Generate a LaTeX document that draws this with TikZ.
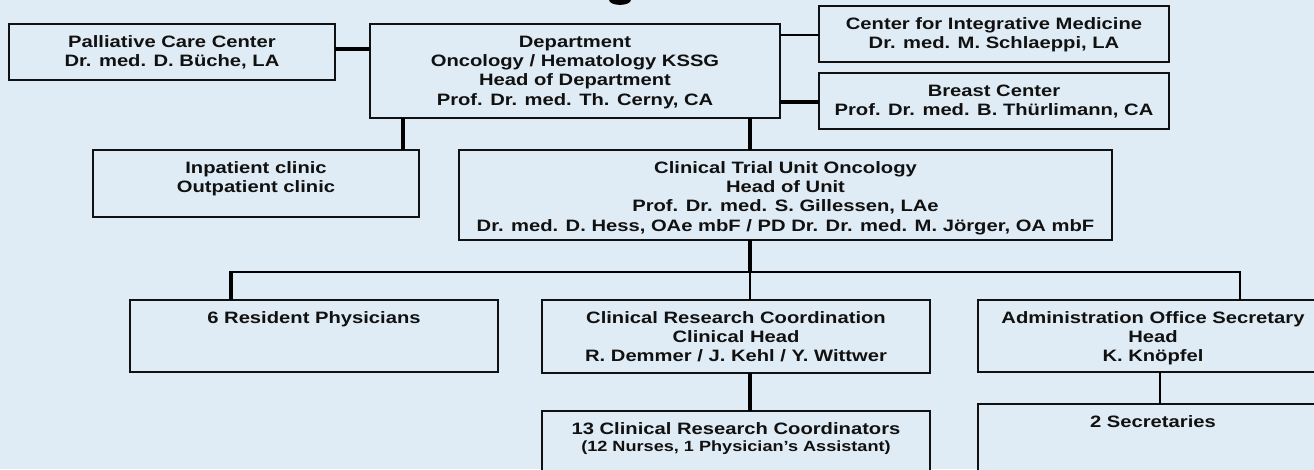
\documentclass[tikz,border=0pt]{standalone}
\usepackage{fontspec}
\setmainfont{Liberation Sans}[FakeStretch=1.224]
\definecolor{bg}{RGB}{224,236,245}
\definecolor{ink}{RGB}{17,17,17}
\newcommand{\bxt}[3]{\parbox[t][#2][t]{#1}{\centering\vspace*{10.3pt}\rule{0pt}{13pt}#3}}
\tikzset{
  orgbox/.style={draw=ink, line width=2.5pt, fill=bg, inner sep=0pt, outer sep=0pt, anchor=north west,
    font=\bfseries\fontsize{16.5}{19.3}\selectfont, text=ink},
  connA/.style={line width=2.7pt, black},
  connB/.style={line width=4.2pt, black},
}
\begin{document}
\begin{tikzpicture}[x=1pt,y=-1pt]
\useasboundingbox (0,0) rectangle (1314,469);
\clip (0,0) rectangle (1314,469);
\fill[bg] (0,0) rectangle (1314,469);
% fragment of a cut-off title
\fill[black] (609,0) .. controls (610,6.5) and (630,6.5) .. (631,0) -- cycle;

% boxes
\node[orgbox] (pal) at (9,24) {\bxt{326pt}{56pt}{Palliative Care Center\\Dr. med. D. Büche, LA}};
\node[orgbox] (dept) at (370,24) {\bxt{410pt}{94pt}{Department\\Oncology / Hematology KSSG\\Head of Department\\Prof. Dr. med. Th. Cerny, CA}};
\node[orgbox] (cim) at (819,6) {\bxt{350pt}{56pt}{Center for Integrative Medicine\\Dr. med. M. Schlaeppi, LA}};
\node[orgbox] (br) at (819,73) {\bxt{350pt}{56pt}{Breast Center\\Prof. Dr. med. B. Thürlimann, CA}};
\node[orgbox] (inp) at (93,150) {\bxt{326pt}{67pt}{Inpatient clinic\\Outpatient clinic}};
\node[orgbox] (ctu) at (459,150) {\bxt{653pt}{90pt}{Clinical Trial Unit Oncology\\Head of Unit\\Prof. Dr. med. S. Gillessen, LAe\\Dr. med. D. Hess, OAe mbF / PD Dr. Dr. med. M. Jörger, OA mbF}};
\node[orgbox] (res) at (130,300) {\bxt{368pt}{72pt}{6 Resident Physicians}};
\node[orgbox] (crc) at (542,300) {\bxt{388pt}{73pt}{Clinical Research Coordination\\Clinical Head\\R. Demmer / J. Kehl / Y. Wittwer}};
\node[orgbox] (c13) at (542,411) {\bxt{388pt}{69pt}{13 Clinical Research Coordinators\\[-2.3pt]{\fontsize{14.8}{17}\selectfont (12 Nurses, 1 Physician’s Assistant)}}};
\node[orgbox] (adm) at (978,300) {\bxt{350pt}{72pt}{Administration Office Secretary\\Head\\K. Knöpfel}};
\node[orgbox] (sec) at (978,404) {\bxt{350pt}{76pt}{2 Secretaries}};

% junction coordinates
\coordinate (yPD) at (0,49);
\coordinate (yCIM) at (0,35);
\coordinate (yBR) at (0,102);
\coordinate (xIN) at (403,0);
\coordinate (xC) at (750,0);
\coordinate (xSec) at (1160,0);
\coordinate (busL) at (231,272);
\coordinate (busC) at (750,272);
\coordinate (busR) at (1240,272);

% connectors
\draw[connB] (pal.east |- yPD) -- (dept.west |- yPD);
\draw[connA] (dept.east |- yCIM) -- (cim.west |- yCIM);
\draw[connB] (dept.east |- yBR) -- (br.west |- yBR);
\draw[connB] (dept.south -| xIN) -- (inp.north -| xIN);
\draw[connB] (dept.south -| xC) -- (ctu.north -| xC);
\draw[connB] (ctu.south -| xC) -- (busC);
\draw[connA, line cap=rect] (busL) -- (busR);
\draw[connB] ([yshift=1.35pt]busL) -- (res.north -| busL);
\draw[connA] (busC) -- (crc.north -| busC);
\draw[connA] (busR) -- (adm.north -| busR);
\draw[connB] (crc.south -| xC) -- (c13.north -| xC);
\draw[connA] (adm.south -| xSec) -- (sec.north -| xSec);
\end{tikzpicture}
\end{document}
